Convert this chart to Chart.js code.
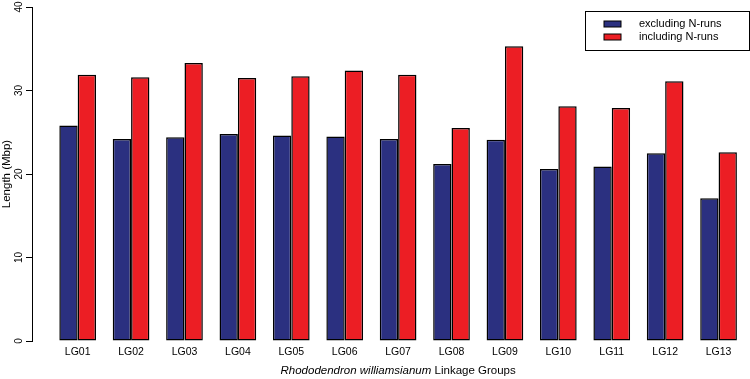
<!DOCTYPE html>
<html>
<head>
<meta charset="utf-8">
<script src="https://cdn.jsdelivr.net/npm/chart.js@4/dist/chart.umd.min.js"></script>
<style>
    html, body { margin: 0; padding: 0; background: #ffffff; }
    #grafico { width: 750px; height: 379px; }
</style>
</head>
<body>
<div id="grafico"><canvas id="myChart1"></canvas></div>
<script>
// dados do gráfico (Mbp por grupo de ligação)
const categorias = ['LG01', 'LG02', 'LG03', 'LG04', 'LG05', 'LG06', 'LG07', 'LG08', 'LG09', 'LG10', 'LG11', 'LG12', 'LG13'];
const semNRuns = [25.8, 24.2, 24.4, 24.8, 24.6, 24.5, 24.2, 21.2, 24.1, 20.6, 20.9, 22.5, 17.1];
const comNRuns = [31.9, 31.6, 33.3, 31.5, 31.7, 32.4, 31.9, 25.5, 35.3, 28.1, 27.9, 31.1, 22.6];
const nomesSeries = ['excluding N-runs', 'including N-runs'];
const tituloX = ['Rhododendron williamsianum', ' Linkage Groups'];
const tituloY = 'Length (Mbp)';

const corAzul = '#2B3080';
const corVermelho = '#EC1E24';
const fonte = '"Liberation Sans", Arial, Helvetica, sans-serif';

// legenda com caixa, desenhada no canto superior direito
const pluginLegenda = {
    id: 'legendaCaixa',
    afterDraw(chart) {
        const ctx = chart.ctx;
        const area = chart.chartArea;
        const dir = area.right + 0.5;
        const esq = dir - 164;
        const topo = 11.5;
        ctx.save();
        ctx.strokeStyle = '#000';
        ctx.lineWidth = 1;
        ctx.strokeRect(esq, topo, dir - esq, 39);
        ctx.font = '11px ' + fonte;
        ctx.textBaseline = 'middle';
        ctx.textAlign = 'left';
        chart.data.datasets.forEach((ds, i) => {
            const y = topo + 12.5 + i * 13;
            ctx.fillStyle = ds.backgroundColor;
            ctx.fillRect(esq + 18.5, y - 3, 17, 6);
            ctx.strokeRect(esq + 18.5, y - 3, 17, 6);
            ctx.fillStyle = '#000';
            ctx.fillText(ds.label, esq + 53.5, y);
        });
        ctx.restore();
    }
};

// título do eixo x (parte em itálico)
const pluginTituloX = {
    id: 'tituloX',
    afterDraw(chart) {
        const ctx = chart.ctx;
        const escalaX = chart.scales.x;
        const centro = (escalaX.getPixelForValue(1) + escalaX.getPixelForValue(categorias.length)) / 2;
        ctx.save();
        ctx.fillStyle = '#000';
        ctx.textBaseline = 'middle';
        ctx.textAlign = 'left';
        const fItalico = 'italic 11.5px ' + fonte;
        const fNormal = '11.5px ' + fonte;
        ctx.font = fItalico;
        const l1 = ctx.measureText(tituloX[0]).width;
        ctx.font = fNormal;
        const l2 = ctx.measureText(tituloX[1]).width;
        let x = centro - (l1 + l2) / 2;
        const y = chart.height - 8;
        ctx.font = fItalico;
        ctx.fillText(tituloX[0], x, y);
        ctx.font = fNormal;
        ctx.fillText(tituloX[1], x + l1, y);
        ctx.restore();
    }
};

function plotarGrafico() {
    const dados = {
        datasets: [{
            label: nomesSeries[0],
            data: semNRuns.map((v, i) => ({ x: i + 1, y: v })),
            backgroundColor: corAzul,
            borderColor: '#000',
            borderWidth: 1.5,
            borderSkipped: false
        }, {
            label: nomesSeries[1],
            data: comNRuns.map((v, i) => ({ x: i + 1, y: v })),
            backgroundColor: corVermelho,
            borderColor: '#000',
            borderWidth: 1.5,
            borderSkipped: false
        }]
    };

    const config = {
        type: 'bar',
        data: dados,
        options: {
            responsive: true,
            maintainAspectRatio: false,
            animation: false,
            categoryPercentage: 0.687,
            barPercentage: 1,
            layout: { padding: { top: 5, right: 1, left: 0, bottom: 0 } },
            plugins: {
                legend: { display: false },
                tooltip: { enabled: false }
            },
            scales: {
                x: {
                    type: 'linear',
                    offset: false,
                    bounds: 'data',
                    min: 0.145,
                    max: 13.57,
                    grid: { display: false, drawTicks: false, tickLength: 0 },
                    border: { display: false },
                    ticks: {
                        color: '#000',
                        font: { family: fonte, size: 10.5 },
                        padding: 5,
                        autoSkip: false,
                        maxRotation: 0,
                        callback: (valor) => categorias[valor - 1]
                    },
                    afterBuildTicks: (escala) => {
                        escala.ticks = categorias.map((c, i) => ({ value: i + 1 }));
                    },
                    afterFit: (escala) => { escala.height = 38; }
                },
                y: {
                    min: 0,
                    max: 40,
                    grid: {
                        drawOnChartArea: false,
                        drawTicks: true,
                        tickLength: 6,
                        color: '#000'
                    },
                    border: { display: true, color: '#000', width: 1 },
                    ticks: {
                        stepSize: 10,
                        color: '#000',
                        font: { family: fonte, size: 10 },
                        minRotation: 90,
                        maxRotation: 90,
                        crossAlign: 'center',
                        padding: 1
                    },
                    title: {
                        display: true,
                        text: tituloY,
                        color: '#000',
                        font: { family: fonte, size: 11.5 },
                        padding: { top: 0, bottom: 0 }
                    },
                    afterFit: (escala) => { escala.width = 32; }
                }
            }
        },
        plugins: [pluginLegenda, pluginTituloX]
    };

    let myChart = new Chart(document.getElementById('myChart1'), config);
}

plotarGrafico();
</script>
</body>
</html>
